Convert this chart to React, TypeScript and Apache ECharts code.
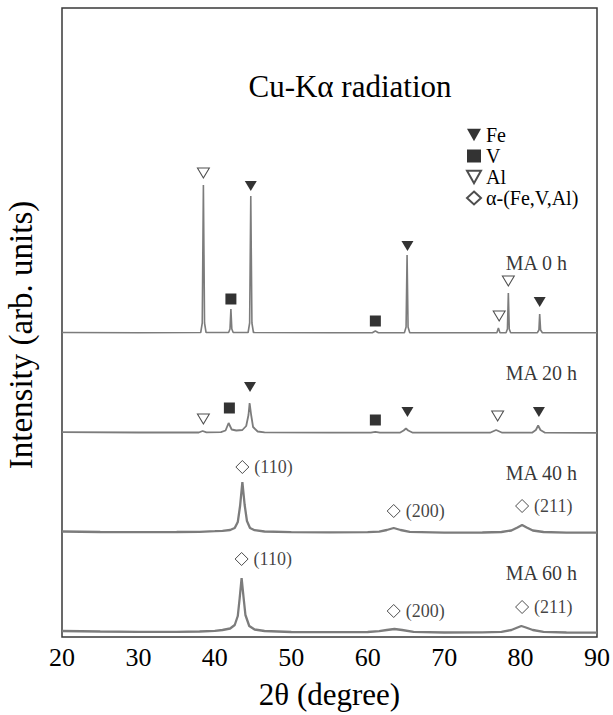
import React, { useEffect, useRef } from "react";
import * as echarts from "echarts";

// ---- axis ----
const X_MIN = 20;
const X_MAX = 90;
const X_STEP = 10;
const Y_MAX = 629; // arbitrary intensity units

// ---- traces: [2θ, intensity above own baseline] ----
const traceNames = ["MA 0 h", "MA 20 h", "MA 40 h", "MA 60 h"];
const traceOffsets = [304, 204, 104, 4];
const traceLabelX = 78;
const traceLabelHeights = [70, 60, 60, 60];

const ma0: number[][] = [
  [20, 0.5], [30, 0.3], [38.15, 0.5], [38.35, 10], [38.5, 148], [38.65, 10], [38.85, 0.5],
  [41.8, 0.5], [41.98, 4], [42.1, 24], [42.22, 4], [42.4, 0.5],
  [44.35, 0.5], [44.55, 10], [44.7, 137], [44.85, 10], [45.05, 0.5],
  [55, 0.3], [60.6, 0.3], [61.0, 2], [61.4, 0.3],
  [64.8, 0.3], [65.02, 6], [65.15, 78], [65.28, 6], [65.5, 0.3],
  [76.9, 0.3], [77.1, 5], [77.3, 0.3],
  [78.1, 0.3], [78.28, 4], [78.4, 40], [78.52, 4], [78.7, 0.3],
  [82.2, 0.3], [82.4, 3], [82.5, 19], [82.62, 3], [82.85, 0.3],
  [90, 0.3],
];

const ma20: number[][] = [
  [20, 0.8], [30, 0.5], [37.9, 0.5], [38.4, 2], [38.9, 0.6],
  [40.8, 0.8], [41.4, 2.5], [41.8, 10], [42.2, 3.5], [42.8, 2.5], [43.6, 3], [44.1, 7], [44.4, 18],
  [44.55, 30], [44.75, 18], [45.0, 6], [45.6, 1.5], [46.5, 0.6],
  [55, 0.3], [60.4, 0.3], [61.0, 1.2], [61.6, 0.3],
  [64.2, 0.3], [64.7, 2.5], [65.0, 4.5], [65.3, 2.5], [65.9, 0.3],
  [76.0, 0.3], [76.8, 3], [77.6, 0.3],
  [81.5, 0.3], [82.0, 3], [82.3, 7.5], [82.6, 3], [83.2, 0.3],
  [90, 0.2],
];

const ma40: number[][] = [
  [20, 1.5], [25, 1], [30, 0.8], [35, 1], [38, 1.2], [40, 1.8], [41, 2.2], [42, 3],
  [42.6, 5], [43.0, 11], [43.3, 27], [43.6, 51], [43.9, 28], [44.2, 12], [44.6, 5],
  [45.2, 2.8], [46.5, 1.5], [50, 0.8], [55, 0.6], [60, 0.8], [61.5, 1.4], [62.5, 3],
  [63.4, 5], [64.3, 3], [65.5, 1.2], [70, 0.4], [75, 0.5], [77.5, 1], [78.8, 2.5],
  [79.6, 5.5], [80.2, 8], [80.8, 5.5], [81.6, 2.5], [83, 1], [86, 0.4], [90, 0.3],
];

const ma60: number[][] = [
  [20, 2], [25, 1.5], [30, 1.2], [35, 1.2], [38, 1.5], [40, 2.2], [41, 3], [42, 4.5],
  [42.6, 8], [43.0, 17], [43.25, 35], [43.5, 55], [43.75, 36], [44.0, 18], [44.5, 7],
  [45.2, 3.5], [46.5, 2], [50, 1], [55, 0.8], [60, 1], [61.5, 1.8], [62.5, 3],
  [63.5, 4], [64.5, 3], [66, 1.2], [70, 0.5], [75, 0.6], [77.5, 1.2], [78.8, 3],
  [79.6, 5.5], [80.1, 7], [80.7, 5.5], [81.6, 3], [83, 1.2], [86, 0.5], [90, 0.3],
];

const traces = [ma0, ma20, ma40, ma60];
const traceWidths = [1.6, 1.8, 2.3, 2.3];

// ---- phase markers: [trace index, 2θ, height above baseline] ----
const feMarks: number[][] = [
  [0, 44.7, 147], [0, 65.2, 87], [0, 82.5, 31],
  [1, 44.6, 46], [1, 65.2, 21], [1, 82.4, 21],
];
const vMarks: number[][] = [
  [0, 42.1, 34], [0, 61.0, 12],
  [1, 41.9, 25], [1, 61.0, 13],
];
const alMarks: number[][] = [
  [0, 38.5, 160], [0, 77.2, 17], [0, 78.4, 52],
  [1, 38.5, 14], [1, 77.0, 17],
];
const alphaMarks: number[][] = [
  [2, 43.6, 66], [2, 63.4, 22], [2, 80.2, 27],
  [3, 43.5, 74], [3, 63.4, 22], [3, 80.2, 26],
];
const alphaHkl = ["(110)", "(200)", "(211)", "(110)", "(200)", "(211)"];

const phaseNames = ["Fe", "V", "Al", "α-(Fe,V,Al)"];

const FONT = "Liberation Serif, Times New Roman, serif";
const DOWN_TRI = "path://M0,0L10,0L5,9Z";

const toXY = (m: number[]) => [m[1], traceOffsets[m[0]] + m[2]];

export default function App() {
  const ref = useRef<HTMLDivElement>(null);

  useEffect(() => {
    if (!ref.current) return;
    const chart = echarts.init(ref.current, null, { renderer: "svg" });

    const lineSeries = traces.map((t, i) => ({
      type: "line",
      name: traceNames[i],
      data: t.map((p) => [p[0], traceOffsets[i] + p[1]]),
      showSymbol: false,
      symbol: "none",
      lineStyle: { color: "#7c7c7c", width: traceWidths[i] },
      silent: true,
      z: 2,
    }));

    const option: any = {
      animation: false,
      backgroundColor: "#fff",
      textStyle: { fontFamily: FONT },
      grid: {
        left: 62,
        right: 13,
        top: 8,
        bottom: 78,
        show: true,
        borderColor: "#383838",
        borderWidth: 1.5,
        backgroundColor: "transparent",
      },
      xAxis: {
        type: "value",
        min: X_MIN,
        max: X_MAX,
        interval: X_STEP,
        axisLine: { show: false },
        axisTick: { show: false },
        splitLine: { show: false },
        axisLabel: { color: "#000", fontSize: 26, fontFamily: FONT, margin: 7 },
        name: "2θ (degree)",
        nameLocation: "middle",
        nameGap: 42,
        nameTextStyle: { color: "#000", fontSize: 31, fontFamily: FONT },
      },
      yAxis: {
        type: "value",
        min: 0,
        max: Y_MAX,
        axisLine: { show: false },
        axisTick: { show: false },
        axisLabel: { show: false },
        splitLine: { show: false },
      },
      legend: {
        orient: "vertical",
        left: 466,
        top: 125,
        padding: 0,
        itemGap: 1,
        itemWidth: 14,
        itemHeight: 13,
        selectedMode: false,
        data: phaseNames,
        textStyle: { color: "#000", fontSize: 20, fontFamily: FONT, lineHeight: 20 },
      },
      graphic: [
        {
          type: "text",
          x: 350,
          y: 86,
          style: {
            text: "Cu-Kα radiation",
            font: `31px ${FONT}`,
            fill: "#000",
            align: "center",
            verticalAlign: "middle",
          },
        },
        {
          type: "text",
          x: 21,
          y: 335,
          rotation: Math.PI / 2,
          style: {
            text: "Intensity (arb. units)",
            font: `33px ${FONT}`,
            fill: "#000",
            align: "center",
            verticalAlign: "middle",
          },
        },
      ],
      series: [
        ...lineSeries,
        {
          type: "scatter",
          name: "Fe",
          symbol: DOWN_TRI,
          symbolSize: [12, 10],
          itemStyle: { color: "#000" },
          data: feMarks.map(toXY),
          z: 5,
        },
        {
          type: "scatter",
          name: "V",
          symbol: "rect",
          symbolSize: 11,
          itemStyle: { color: "#000" },
          data: vMarks.map(toXY),
          z: 5,
        },
        {
          type: "scatter",
          name: "Al",
          symbol: DOWN_TRI,
          symbolSize: [12, 10],
          itemStyle: { color: "#fff", borderColor: "#222", borderWidth: 1 },
          data: alMarks.map(toXY),
          z: 5,
        },
        {
          type: "scatter",
          name: "α-(Fe,V,Al)",
          symbol: "diamond",
          symbolSize: [13, 13],
          itemStyle: { color: "#fff", borderColor: "#222", borderWidth: 1 },
          label: {
            show: true,
            position: "right",
            distance: 5,
            color: "#111",
            fontSize: 18,
            fontFamily: FONT,
          },
          data: alphaMarks.map((m, i) => ({
            value: toXY(m),
            label: { formatter: alphaHkl[i] },
          })),
          z: 5,
        },
        {
          type: "scatter",
          name: "labels",
          symbolSize: 1,
          itemStyle: { color: "rgba(0,0,0,0)" },
          label: {
            show: true,
            position: "right",
            distance: 0,
            formatter: "{b}",
            color: "#000",
            fontSize: 20,
            fontFamily: FONT,
          },
          data: traceNames.map((n, i) => ({
            name: n,
            value: [traceLabelX, traceOffsets[i] + traceLabelHeights[i]],
          })),
          z: 5,
        },
      ],
    };

    chart.setOption(option);
    return () => chart.dispose();
  }, []);

  return (
    <div
      ref={ref}
      style={{ position: "fixed", left: 0, top: 0, width: 613, height: 715, background: "#fff" }}
    />
  );
}
